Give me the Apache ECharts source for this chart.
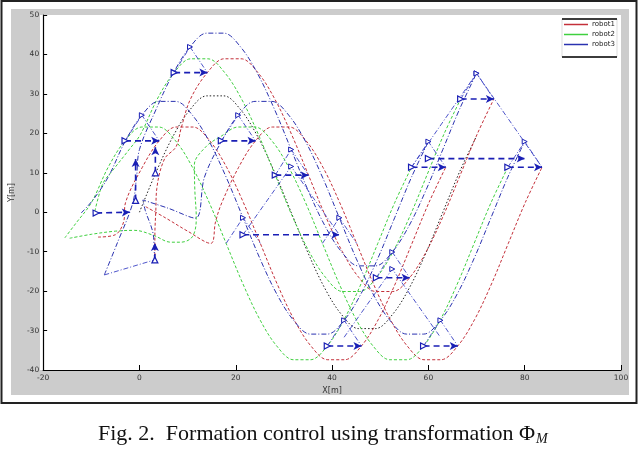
<!DOCTYPE html>
<html><head><meta charset="utf-8">
<script src="https://cdn.jsdelivr.net/npm/echarts@6/dist/echarts.min.js"></script>
<style>html,body{margin:0;padding:0;background:#fff}#c{width:640px;height:450px}</style>
</head><body><div id="c"></div>
<script>
// ---------------- data ----------------
const xTicks = [-20, 0, 20, 40, 60, 80, 100];
const yTicks = [-40, -30, -20, -10, 0, 10, 20, 30, 40, 50];
const legendNames = ['robot1', 'robot2', 'robot3'];

// virtual leader / reference path (black dotted)
const referencePath = [[0,0],[3.5,10.3],[7,19.3],[10.5,26],[14,29.5],[17.5,29.5],[21,26],[24.5,19.3],[28,10.3],[31.5,0],[35,-10.3],[38.5,-19.3],[42,-26],[45.5,-29.5],[49,-29.5],[52.5,-26],[56,-19.3],[59.5,-10.3],[63,0],[66.5,10.3],[70,19.3]];

// group A (upper formation)
const robot2A = [[-9.5,-1],[-8.6,3.5],[-7.5,7.5],[-5.3,11],[-2.2,15.8],[0.2,19.7],[3.7,28.7],[7.2,35.4],[10.7,38.9],[14.2,38.9],[17.7,35.4],[21.2,28.7],[24.7,19.7],[28.2,9.4],[31.7,-0.9],[35.2,-9.9],[38.7,-16.6],[42.2,-20.1],[45.7,-20.1],[49.2,-16.6],[52.7,-9.9],[56.2,-0.9],[59.7,9.4],[63.2,19.7],[66.7,28.7]];
const robot1A = [[3.2,-12.3],[3.2,-6],[3.4,0.5],[3.6,6],[5.2,13.5],[7.6,16.6],[8.7,21.5],[10.6,28.7],[14.1,35.4],[17.6,38.9],[21.1,38.9],[24.6,35.4],[28.1,28.7],[31.6,19.7],[35.1,9.4],[38.6,-0.9],[42.1,-9.9],[45.6,-16.6],[49.1,-20.1],[52.6,-20.1],[56.1,-16.6],[59.6,-9.9],[63.1,-0.9],[66.6,9.4],[70.1,19.7],[73.6,28.7]];
const robot3A = [[-7.3,-15.9],[-4.5,-7.5],[-1.4,2.3],[-0.6,9],[0,15.9],[3.5,26.2],[7,35.2],[10.5,41.9],[14,45.4],[17.5,45.4],[21,41.9],[24.5,35.2],[28,26.2],[31.5,15.9],[35,5.6],[38.5,-3.4],[42,-10.1],[45.5,-13.6],[49,-13.6],[52.5,-10.1],[56,-3.4],[59.5,5.6],[63,15.9],[66.5,26.2],[70,35.2]];

// group B (left formation)
const robot2B = [[-15.5,-6.5],[-13.2,-2.8],[-10,2.4],[-6.5,11.4],[-3,18.1],[0.5,21.6],[4,21.6],[7.5,18.1],[11,11.4],[14.5,2.4],[18,-7.9],[21.5,-18.2],[25,-27.2],[28.5,-33.9],[32,-37.4],[35.5,-37.4],[39,-33.9],[42.5,-27.2],[46,-18.2],[49.5,-7.9],[53,2.4],[56.5,11.4]];
const robot1B = [[-8.6,-6.3],[-5,-5.7],[-3.3,-2.5],[-2.9,2.4],[0.6,11.4],[4.1,18.1],[7.6,21.6],[11.1,21.6],[14.6,18.1],[18.1,11.4],[21.6,2.4],[25.1,-7.9],[28.6,-18.2],[32.1,-27.2],[35.6,-33.9],[39.1,-37.4],[42.6,-37.4],[46.1,-33.9],[49.6,-27.2],[53.1,-18.2],[56.6,-7.9],[60.1,2.4],[63.6,11.4]];
const robot3B = [[-12.1,-0.2],[-9.6,3.2],[-6.5,8.9],[-3,17.9],[0.5,24.6],[4,28.1],[7.5,28.1],[11,24.6],[14.5,17.9],[18,8.9],[21.5,-1.4],[25,-11.7],[28.5,-20.7],[32,-27.4],[35.5,-30.9],[39,-30.9],[42.5,-27.4],[46,-20.7],[49.5,-11.7],[53,-1.4],[56.5,8.9],[60,17.9]];

// group C (right formation)
const robot2C = [[-14.5,-6.6],[-10,-5.6],[-5,-4.8],[-1,-4.6],[3,-5.9],[6.5,-7.6],[8.6,-7.6],[11,-6.2],[11.8,-1.5],[11.5,5.6],[11.4,12],[13.8,16.6],[17,19.3],[20.5,21.6],[24,21.6],[27.5,18.1],[31,11.4],[34.5,2.4],[38,-7.9],[41.5,-18.2],[45,-27.2],[48.5,-33.9],[52,-37.4],[55.5,-37.4],[59,-33.9],[62.5,-27.2],[66,-18.2],[69.5,-7.9],[73,2.4],[76.5,11.4]];
const robot1C = [[1.3,1.4],[5.5,-1.5],[10,-4.8],[14.8,-7.9],[15.8,-2.4],[17.1,2.4],[20.6,11.4],[24.1,18.1],[27.6,21.6],[31.1,21.6],[34.6,18.1],[38.1,11.4],[41.6,2.4],[45.1,-7.9],[48.6,-18.2],[52.1,-27.2],[55.6,-33.9],[59.1,-37.4],[62.6,-37.4],[66.1,-33.9],[69.6,-27.2],[73.1,-18.2],[76.6,-7.9],[80.1,2.4],[83.6,11.4]];
const robot3C = [[3.1,-12.1],[2.9,-6],[1.2,0.5],[0.7,3.1],[6,1],[11.6,-1.5],[13.5,8.9],[17,17.9],[20.5,24.6],[24,28.1],[27.5,28.1],[31,24.6],[34.5,17.9],[38,8.9],[41.5,-1.4],[45,-11.7],[48.5,-20.7],[52,-27.4],[55.5,-30.9],[59,-30.9],[62.5,-27.4],[66,-20.7],[69.5,-11.7],[73,-1.4],[76.5,8.9],[80,17.9]];

// formation snapshots: thick dashed arrows (start -> end)
const formationArrows = [
  [[-9,-0.2],[-2,0]], [[3.2,-12.1],[3.2,-7.8]], [[-0.8,3],[-0.8,13.5]], [[3.3,10],[3.3,16.5]],
  [[7.2,35.4],[14.1,35.4]], [[-3,18.1],[4.1,18.1]], [[17,18.1],[24.1,18.1]],
  [[28.2,9.4],[35.1,9.4]], [[21.5,-5.7],[41.5,-5.7]],
  [[49.2,-16.6],[56.1,-16.6]], [[39,-33.9],[46.1,-33.9]], [[59,-33.9],[66.1,-33.9]],
  [[66.7,28.7],[73.6,28.7]], [[56.5,11.4],[63.6,11.4]], [[76.5,11.4],[83.6,11.4]], [[60,13.6],[80,13.6]]
];
// formation snapshots: thin dash-dot triangle sides
const formationEdges = [
  [[-7.3,-15.9],[3.1,-12.1]],
  [[7.2,35.4],[10.5,41.9],[14.1,35.4]], [[-3,18.1],[0.5,24.6],[4.1,18.1]], [[17,18.1],[20.5,24.6],[24.1,18.1]],
  [[28.2,9.4],[31.5,15.9],[35.1,9.4]], [[18,-7.9],[21.5,-1.4],[25.1,-7.9]], [[38,-7.9],[41.5,-1.4],[45.1,-7.9]],
  [[21.5,-5.7],[31.5,11.6],[41.5,-5.7]],
  [[49.2,-16.6],[52.5,-10.1],[56.1,-16.6]], [[39,-33.9],[42.5,-27.4],[46.1,-33.9]], [[59,-33.9],[62.5,-27.4],[66.1,-33.9]],
  [[42.5,-31.7],[52.5,-14.4],[62.5,-31.7]],
  [[66.7,28.7],[70,35.2],[73.6,28.7]], [[56.5,11.4],[60,17.9],[63.6,11.4]], [[76.5,11.4],[80,17.9],[83.6,11.4]],
  [[56.5,11.4],[70,35.2],[83.6,11.4]]
];

// ---------------- styling / option building ----------------
const RED = '#c4303a', GREEN = '#3fd03f', BLUE = '#2a32b0', ARROW = '#1a1fb5';
const robots = [
  {name:'robot1', data:robot1A, color:RED, type:[3,2]},
  {name:'robot1', data:robot1B, color:RED, type:[3,2]},
  {name:'robot1', data:robot1C, color:RED, type:[3,2]},
  {name:'robot2', data:robot2A, color:GREEN, type:[3,2]},
  {name:'robot2', data:robot2B, color:GREEN, type:[3,2]},
  {name:'robot2', data:robot2C, color:GREEN, type:[3,2]},
  {name:'robot3', data:robot3A, color:BLUE, type:[5,2,1,2]},
  {name:'robot3', data:robot3B, color:BLUE, type:[5,2,1,2]},
  {name:'robot3', data:robot3C, color:BLUE, type:[5,2,1,2]}
];
const xMin = xTicks[0], xMax = xTicks[xTicks.length-1];
const yMin = yTicks[0], yMax = yTicks[yTicks.length-1];
const gridL = 40, gridT = 15, gridW = 581, gridH = 355;
const kx = gridW/(xMax-xMin), ky = gridH/(yMax-yMin);
function rotFor(a,b){ return Math.atan2((b[1]-a[1])*ky,(b[0]-a[0])*kx)*180/Math.PI - 90; }

const series = [];
series.push({type:'line', data:referencePath, smooth:0.35, symbol:'none', silent:true, z:3,
  lineStyle:{color:'#222', width:1, type:[1.5,2]}});
robots.forEach(r => series.push({type:'line', name:r.name, data:r.data, smooth:0.35, symbol:'none', silent:true, z:3,
  color:r.color, lineStyle:{color:r.color, width:1, type:r.type}}));
formationEdges.forEach(e => series.push({type:'line', data:e.map((p,i)=>({value:p,
    symbol:(e.length===3 && i===1)?'triangle':'none', symbolSize:5, symbolRotate:-90,
    itemStyle:{color:'#fff', borderColor:ARROW, borderWidth:1}})),
  symbol:'none', silent:true, z:4, lineStyle:{color:'#3a42c4', width:0.9, type:[5,2,1,2]}}));
formationArrows.forEach(s => { const r = rotFor(s[0],s[1]);
  series.push({type:'line', silent:true, z:5, data:[
    {value:s[0], symbol:'triangle', symbolSize:6, symbolRotate:r, itemStyle:{color:'#fff', borderColor:ARROW, borderWidth:1.2}},
    {value:s[1], symbol:'arrow', symbolSize:[6,8], symbolRotate:r, itemStyle:{color:ARROW}}],
    lineStyle:{color:ARROW, width:1.6, type:[6,4]}}); });

const option = {
  animation:false,
  backgroundColor:'#fff',
  grid:{left:gridL, top:gridT, width:gridW, height:gridH, show:false},
  xAxis:{type:'value', min:xMin, max:xMax, interval:xTicks[1]-xTicks[0], name:'X[m]', nameLocation:'middle', nameGap:16,
    nameTextStyle:{fontSize:8, color:'#333', fontFamily:'DejaVu Sans'},
    axisLine:{show:true, onZero:false, lineStyle:{color:'#000', width:1.2}},
    axisTick:{show:true, inside:true, length:5, lineStyle:{color:'#000'}},
    axisLabel:{fontSize:7.5, color:'#333', margin:4, fontFamily:'DejaVu Sans'}, splitLine:{show:false}},
  yAxis:{type:'value', min:yMin, max:yMax, interval:yTicks[1]-yTicks[0], name:'Y[m]', nameLocation:'middle', nameGap:18, nameRotate:90,
    nameTextStyle:{fontSize:8, color:'#333', fontFamily:'DejaVu Sans'},
    axisLine:{show:true, onZero:false, lineStyle:{color:'#000', width:1.2}},
    axisTick:{show:true, inside:true, length:4, lineStyle:{color:'#000'}},
    axisLabel:{fontSize:7.5, color:'#333', margin:4, fontFamily:'DejaVu Sans'}, splitLine:{show:false}},
  legend:{data:legendNames, orient:'vertical', left:564, top:21, z:20, itemWidth:24, itemHeight:1.5, itemGap:3,
    padding:0, icon:'rect',
    textStyle:{fontSize:7, color:'#222', fontFamily:'DejaVu Sans', padding:[0,0,0,-1]}},
  graphic:[
    {type:'rect', z:-10, silent:true, shape:{x:1.5, y:1, width:635, height:402}, style:{fill:'#fff', stroke:'#222', lineWidth:2}},
    {type:'rect', z:-9, silent:true, shape:{x:11, y:9, width:618, height:386}, style:{fill:'#cccccc'}},
    {type:'rect', z:-8, silent:true, shape:{x:gridL, y:gridT, width:gridW, height:gridH}, style:{fill:'#fff'}},
    {type:'rect', z:6, silent:true, shape:{x:562, y:19, width:55, height:38}, style:{fill:'#fff', stroke:'#ddd', lineWidth:1}},
    {type:'line', z:7, silent:true, shape:{x1:562, y1:19, x2:617, y2:19}, style:{stroke:'#000', lineWidth:1.3}},
    {type:'line', z:7, silent:true, shape:{x1:562, y1:57, x2:617, y2:57}, style:{stroke:'#000', lineWidth:1.3}},
    {type:'text', z:11, silent:true, x:98, y:423, style:{text:'{a|Fig. 2.  Formation control using transformation Φ}{m|M}',
      rich:{a:{font:'22px "Liberation Serif"', fill:'#111'}, m:{font:'italic 14px "Liberation Serif"', fill:'#111', padding:[9,0,0,1]}}}}
  ],
  series:series
};
const chart = echarts.init(document.getElementById('c'));
chart.setOption(option);
</script></body></html>
